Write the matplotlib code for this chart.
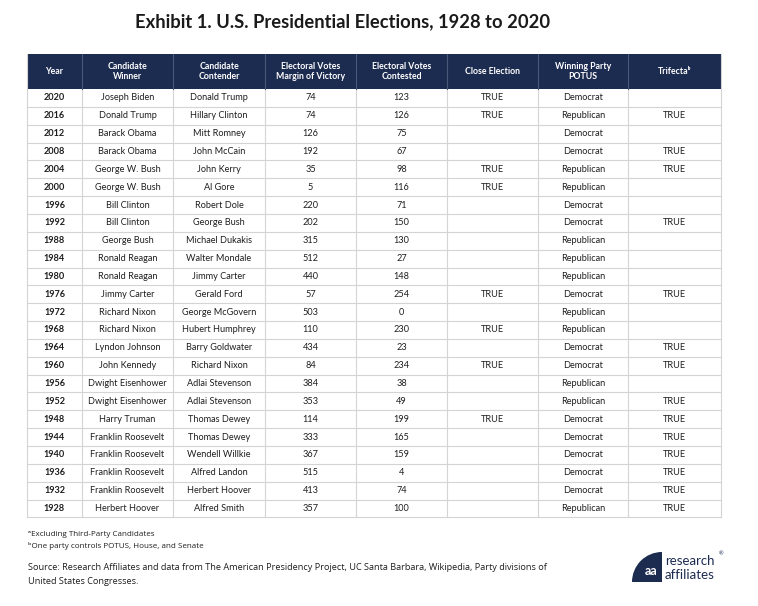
import matplotlib.pyplot as plt
from matplotlib.patches import Rectangle, Wedge

# table data
headers = ["Year", "Candidate\nWinner", "Candidate\nContender", "Electoral Votes\nMargin of Victory",
           "Electoral Votes\nContested", "Close Election", "Winning Party\nPOTUS", "Trifectaᵇ"]
years = [2020, 2016, 2012, 2008, 2004, 2000, 1996, 1992, 1988, 1984, 1980, 1976,
         1972, 1968, 1964, 1960, 1956, 1952, 1948, 1944, 1940, 1936, 1932, 1928]
winners = ["Joseph Biden", "Donald Trump", "Barack Obama", "Barack Obama", "George W. Bush",
           "George W. Bush", "Bill Clinton", "Bill Clinton", "George Bush", "Ronald Reagan",
           "Ronald Reagan", "Jimmy Carter", "Richard Nixon", "Richard Nixon", "Lyndon Johnson",
           "John Kennedy", "Dwight Eisenhower", "Dwight Eisenhower", "Harry Truman",
           "Franklin Roosevelt", "Franklin Roosevelt", "Franklin Roosevelt", "Franklin Roosevelt",
           "Herbert Hoover"]
contenders = ["Donald Trump", "Hillary Clinton", "Mitt Romney", "John McCain", "John Kerry",
              "Al Gore", "Robert Dole", "George Bush", "Michael Dukakis", "Walter Mondale",
              "Jimmy Carter", "Gerald Ford", "George McGovern", "Hubert Humphrey",
              "Barry Goldwater", "Richard Nixon", "Adlai Stevenson", "Adlai Stevenson",
              "Thomas Dewey", "Thomas Dewey", "Wendell Willkie", "Alfred Landon",
              "Herbert Hoover", "Alfred Smith"]
margin = [74, 74, 126, 192, 35, 5, 220, 202, 315, 512, 440, 57, 503, 110, 434, 84, 384, 353,
          114, 333, 367, 515, 413, 357]
contested = [123, 126, 75, 67, 98, 116, 71, 150, 130, 27, 148, 254, 0, 230, 23, 234, 38, 49,
             199, 165, 159, 4, 74, 100]
close = ["TRUE", "TRUE", "", "", "TRUE", "TRUE", "", "", "", "", "", "TRUE", "", "TRUE", "",
         "TRUE", "", "", "TRUE", "", "", "", "", ""]
party = ["Democrat", "Republican", "Democrat", "Democrat", "Republican", "Republican",
         "Democrat", "Democrat", "Republican", "Republican", "Republican", "Democrat",
         "Republican", "Republican", "Democrat", "Democrat", "Republican", "Republican",
         "Democrat", "Democrat", "Democrat", "Democrat", "Democrat", "Republican"]
trifecta = ["", "TRUE", "", "TRUE", "TRUE", "", "", "TRUE", "", "", "", "TRUE", "", "",
            "TRUE", "TRUE", "", "TRUE", "TRUE", "TRUE", "TRUE", "TRUE", "TRUE", "TRUE"]

navy = "#1c2b50"
grid = "#d4d4d4"
txt = "#1e1e1e"
fam = ["Lato", "DejaVu Sans"]
src_fam = ["Open Sans", "DejaVu Sans"]

fig = plt.figure(figsize=(7.58, 6.06), dpi=100)
ax = fig.add_axes([0, 0, 1, 1])
ax.set_xlim(0, 758)
ax.set_ylim(606, 0)
ax.axis("off")

ax.text(343, 22, "Exhibit 1. U.S. Presidential Elections, 1928 to 2020", ha="center",
        va="center", fontsize=13.2, fontweight="bold", family=fam, color="#1a1a1a")

cols = [27, 82, 173, 265, 356, 447, 538, 628, 721]
top, head_h, row_h = 54, 35, 17.85
ax.add_patch(Rectangle((cols[0], top), cols[-1] - cols[0], head_h, color=navy, lw=0))
for i, h in enumerate(headers):
    xc = (cols[i] + cols[i + 1]) / 2
    ax.text(xc, top + head_h / 2, h, ha="center", va="center", fontsize=6.3,
            fontweight="bold", color="white", family=fam, linespacing=1.25)

rows = list(zip(years, winners, contenders, margin, contested, close, party, trifecta))
y0 = top + head_h
for r, row in enumerate(rows):
    yc = y0 + (r + 0.5) * row_h
    for i, val in enumerate(row):
        xc = (cols[i] + cols[i + 1]) / 2
        ax.text(xc, yc, str(val), ha="center", va="center", fontsize=6.6, color=txt,
                family=fam, fontweight="bold" if i == 0 else "normal")
    ax.plot([cols[0], cols[-1]], [y0 + (r + 1) * row_h] * 2, color=grid, lw=0.8)
bottom = y0 + len(rows) * row_h
for i, x in enumerate(cols):
    ax.plot([x, x], [top if i in (0, len(cols) - 1) else y0, bottom], color=grid, lw=0.8)
    if 0 < i < len(cols) - 1:
        ax.plot([x, x], [top, y0], color="#4a5878", lw=0.8)

# footnotes and source
ax.text(28, 535, "ᵃExcluding Third-Party Candidates", fontsize=5.8, va="center",
        family=src_fam, color=txt)
ax.text(28, 546, "ᵇOne party controls POTUS, House, and Senate", fontsize=5.8, va="center",
        family=src_fam, color=txt)
ax.text(28, 568, "Source: Research Affiliates and data from The American Presidency Project, "
        "UC Santa Barbara, Wikipedia, Party divisions of", fontsize=6.6, va="center",
        family=src_fam, color=txt)
ax.text(28, 582, "United States Congresses.", fontsize=6.6, va="center",
        family=src_fam, color=txt)

# logo
ax.add_patch(Wedge((662, 582), 30, 180, 270, color=navy, lw=0))
ax.text(651, 571, "aa", ha="center", va="center", fontsize=9, fontweight="bold",
        color="white", family=fam)
ax.text(665, 561, "research", fontsize=9.5, va="center", color=navy, family=fam)
ax.text(719, 554, "®", fontsize=4, va="center", color=navy, family=fam)
ax.text(665, 575, "affiliates", fontsize=9.5, va="center", color=navy, family=fam)

fig.savefig("out.png", dpi=100, facecolor="white")
